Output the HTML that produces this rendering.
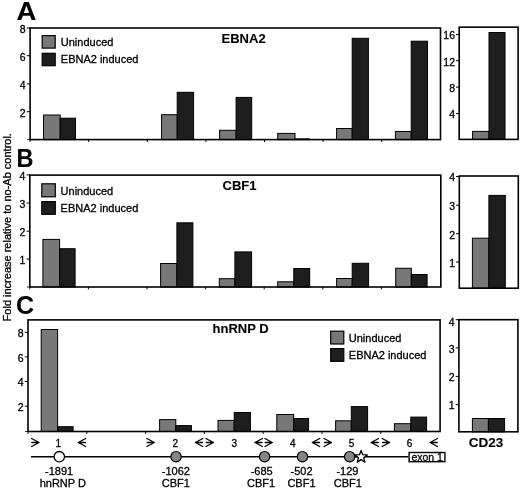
<!DOCTYPE html>
<html><head><meta charset="utf-8"><style>
html,body{margin:0;padding:0;background:#fff;}
body{width:520px;height:490px;overflow:hidden;}
svg{display:block;filter:grayscale(1);}
text{font-family:"Liberation Sans", sans-serif;fill:#000;stroke:#000;stroke-width:0.3px;}
text[font-weight=bold]{stroke-width:0.1px;}
</style></head><body>
<svg width="520" height="490" viewBox="0 0 520 490">
<rect x="0" y="0" width="520" height="490" fill="#fff"/>
<rect x="43.50" y="115.00" width="16.70" height="24.60" fill="#787878" stroke="#000" stroke-width="1.0"/>
<rect x="60.20" y="118.20" width="15.30" height="21.40" fill="#1e1e1e" stroke="#000" stroke-width="1.0"/>
<rect x="161.60" y="114.70" width="15.60" height="24.90" fill="#787878" stroke="#000" stroke-width="1.0"/>
<rect x="177.20" y="92.30" width="16.40" height="47.30" fill="#1e1e1e" stroke="#000" stroke-width="1.0"/>
<rect x="219.60" y="130.30" width="16.50" height="9.30" fill="#787878" stroke="#000" stroke-width="1.0"/>
<rect x="236.10" y="97.40" width="15.60" height="42.20" fill="#1e1e1e" stroke="#000" stroke-width="1.0"/>
<rect x="277.70" y="133.40" width="17.30" height="6.20" fill="#787878" stroke="#000" stroke-width="1.0"/>
<rect x="295.00" y="138.90" width="14.50" height="0.70" fill="#1e1e1e" stroke="#000" stroke-width="1.0"/>
<rect x="336.60" y="128.50" width="15.60" height="11.10" fill="#787878" stroke="#000" stroke-width="1.0"/>
<rect x="352.20" y="38.30" width="16.20" height="101.30" fill="#1e1e1e" stroke="#000" stroke-width="1.0"/>
<rect x="395.40" y="131.50" width="15.80" height="8.10" fill="#787878" stroke="#000" stroke-width="1.0"/>
<rect x="411.20" y="41.20" width="16.30" height="98.40" fill="#1e1e1e" stroke="#000" stroke-width="1.0"/>
<rect x="30.10" y="28.00" width="410.40" height="111.60" fill="none" stroke="#000" stroke-width="1.6"/>
<line x1="26.90" y1="28.00" x2="30.10" y2="28.00" stroke="#000" stroke-width="1.0"/>
<text x="25.70" y="32.80" font-size="10.5" text-anchor="end" font-weight="normal" >8</text>
<line x1="26.90" y1="55.70" x2="30.10" y2="55.70" stroke="#000" stroke-width="1.0"/>
<text x="25.70" y="60.50" font-size="10.5" text-anchor="end" font-weight="normal" >6</text>
<line x1="26.90" y1="83.90" x2="30.10" y2="83.90" stroke="#000" stroke-width="1.0"/>
<text x="25.70" y="88.70" font-size="10.5" text-anchor="end" font-weight="normal" >4</text>
<line x1="26.90" y1="111.70" x2="30.10" y2="111.70" stroke="#000" stroke-width="1.0"/>
<text x="25.70" y="116.50" font-size="10.5" text-anchor="end" font-weight="normal" >2</text>
<line x1="27.10" y1="139.60" x2="30.10" y2="139.60" stroke="#000" stroke-width="0.8"/>
<line x1="30.10" y1="139.60" x2="30.10" y2="142.00" stroke="#000" stroke-width="0.9"/>
<line x1="88.70" y1="139.60" x2="88.70" y2="142.00" stroke="#000" stroke-width="1.0"/>
<line x1="147.30" y1="139.60" x2="147.30" y2="142.00" stroke="#000" stroke-width="1.0"/>
<line x1="205.90" y1="139.60" x2="205.90" y2="142.00" stroke="#000" stroke-width="1.0"/>
<line x1="264.50" y1="139.60" x2="264.50" y2="142.00" stroke="#000" stroke-width="1.0"/>
<line x1="323.10" y1="139.60" x2="323.10" y2="142.00" stroke="#000" stroke-width="1.0"/>
<line x1="381.70" y1="139.60" x2="381.70" y2="142.00" stroke="#000" stroke-width="1.0"/>
<rect x="42.20" y="35.60" width="13.00" height="12.50" fill="#787878" stroke="#000" stroke-width="1.2"/>
<rect x="42.20" y="53.30" width="13.00" height="12.40" fill="#1e1e1e" stroke="#000" stroke-width="1.2"/>
<text x="60.80" y="45.80" font-size="11" text-anchor="start" font-weight="normal" >Uninduced</text>
<text x="60.80" y="63.20" font-size="11" text-anchor="start" font-weight="normal" >EBNA2 induced</text>
<text x="243.60" y="42.80" font-size="13" text-anchor="middle" font-weight="bold" >EBNA2</text>
<rect x="472.60" y="131.40" width="16.40" height="8.00" fill="#787878" stroke="#000" stroke-width="1.0"/>
<rect x="489.00" y="32.50" width="16.00" height="106.90" fill="#1e1e1e" stroke="#000" stroke-width="1.0"/>
<rect x="459.20" y="27.15" width="58.90" height="112.25" fill="none" stroke="#000" stroke-width="1.6"/>
<line x1="456.00" y1="34.60" x2="459.20" y2="34.60" stroke="#000" stroke-width="1.0"/>
<text x="455.00" y="39.40" font-size="10.5" text-anchor="end" font-weight="normal" >16</text>
<line x1="456.00" y1="60.70" x2="459.20" y2="60.70" stroke="#000" stroke-width="1.0"/>
<text x="455.00" y="65.50" font-size="10.5" text-anchor="end" font-weight="normal" >12</text>
<line x1="456.00" y1="87.10" x2="459.20" y2="87.10" stroke="#000" stroke-width="1.0"/>
<text x="455.00" y="91.90" font-size="10.5" text-anchor="end" font-weight="normal" >8</text>
<line x1="456.00" y1="113.60" x2="459.20" y2="113.60" stroke="#000" stroke-width="1.0"/>
<text x="455.00" y="118.40" font-size="10.5" text-anchor="end" font-weight="normal" >4</text>
<rect x="42.90" y="239.40" width="16.70" height="47.60" fill="#787878" stroke="#000" stroke-width="1.0"/>
<rect x="59.60" y="248.70" width="15.50" height="38.30" fill="#1e1e1e" stroke="#000" stroke-width="1.0"/>
<rect x="160.60" y="263.50" width="16.30" height="23.50" fill="#787878" stroke="#000" stroke-width="1.0"/>
<rect x="176.90" y="222.80" width="16.00" height="64.20" fill="#1e1e1e" stroke="#000" stroke-width="1.0"/>
<rect x="219.30" y="278.70" width="15.60" height="8.30" fill="#787878" stroke="#000" stroke-width="1.0"/>
<rect x="234.90" y="251.90" width="16.70" height="35.10" fill="#1e1e1e" stroke="#000" stroke-width="1.0"/>
<rect x="277.70" y="281.80" width="16.10" height="5.20" fill="#787878" stroke="#000" stroke-width="1.0"/>
<rect x="293.80" y="268.50" width="15.90" height="18.50" fill="#1e1e1e" stroke="#000" stroke-width="1.0"/>
<rect x="336.60" y="278.50" width="15.60" height="8.50" fill="#787878" stroke="#000" stroke-width="1.0"/>
<rect x="352.20" y="263.30" width="16.40" height="23.70" fill="#1e1e1e" stroke="#000" stroke-width="1.0"/>
<rect x="395.70" y="268.30" width="15.60" height="18.70" fill="#787878" stroke="#000" stroke-width="1.0"/>
<rect x="411.30" y="274.50" width="15.80" height="12.50" fill="#1e1e1e" stroke="#000" stroke-width="1.0"/>
<rect x="29.80" y="175.10" width="411.00" height="111.90" fill="none" stroke="#000" stroke-width="1.6"/>
<line x1="26.60" y1="174.90" x2="29.80" y2="174.90" stroke="#000" stroke-width="1.0"/>
<text x="25.40" y="179.70" font-size="10.5" text-anchor="end" font-weight="normal" >4</text>
<line x1="26.60" y1="203.00" x2="29.80" y2="203.00" stroke="#000" stroke-width="1.0"/>
<text x="25.40" y="207.80" font-size="10.5" text-anchor="end" font-weight="normal" >3</text>
<line x1="26.60" y1="231.20" x2="29.80" y2="231.20" stroke="#000" stroke-width="1.0"/>
<text x="25.40" y="236.00" font-size="10.5" text-anchor="end" font-weight="normal" >2</text>
<line x1="26.60" y1="259.10" x2="29.80" y2="259.10" stroke="#000" stroke-width="1.0"/>
<text x="25.40" y="263.90" font-size="10.5" text-anchor="end" font-weight="normal" >1</text>
<line x1="26.80" y1="287.00" x2="29.80" y2="287.00" stroke="#000" stroke-width="0.8"/>
<line x1="29.80" y1="287.00" x2="29.80" y2="289.40" stroke="#000" stroke-width="0.9"/>
<line x1="88.40" y1="287.00" x2="88.40" y2="289.40" stroke="#000" stroke-width="1.0"/>
<line x1="147.00" y1="287.00" x2="147.00" y2="289.40" stroke="#000" stroke-width="1.0"/>
<line x1="205.60" y1="287.00" x2="205.60" y2="289.40" stroke="#000" stroke-width="1.0"/>
<line x1="264.20" y1="287.00" x2="264.20" y2="289.40" stroke="#000" stroke-width="1.0"/>
<line x1="322.80" y1="287.00" x2="322.80" y2="289.40" stroke="#000" stroke-width="1.0"/>
<line x1="381.40" y1="287.00" x2="381.40" y2="289.40" stroke="#000" stroke-width="1.0"/>
<rect x="41.80" y="183.80" width="13.50" height="13.00" fill="#787878" stroke="#000" stroke-width="1.2"/>
<rect x="41.80" y="201.60" width="13.50" height="12.70" fill="#1e1e1e" stroke="#000" stroke-width="1.2"/>
<text x="60.60" y="194.70" font-size="11" text-anchor="start" font-weight="normal" >Uninduced</text>
<text x="60.60" y="212.10" font-size="11" text-anchor="start" font-weight="normal" >EBNA2 induced</text>
<text x="239.50" y="190.30" font-size="13" text-anchor="middle" font-weight="bold" >CBF1</text>
<rect x="472.40" y="238.20" width="16.50" height="50.00" fill="#787878" stroke="#000" stroke-width="1.0"/>
<rect x="488.90" y="195.40" width="16.40" height="92.80" fill="#1e1e1e" stroke="#000" stroke-width="1.0"/>
<rect x="459.30" y="176.00" width="59.00" height="112.20" fill="none" stroke="#000" stroke-width="1.6"/>
<line x1="456.10" y1="176.50" x2="459.30" y2="176.50" stroke="#000" stroke-width="1.0"/>
<text x="455.10" y="181.30" font-size="10.5" text-anchor="end" font-weight="normal" >4</text>
<line x1="456.10" y1="205.20" x2="459.30" y2="205.20" stroke="#000" stroke-width="1.0"/>
<text x="455.10" y="210.00" font-size="10.5" text-anchor="end" font-weight="normal" >3</text>
<line x1="456.10" y1="233.70" x2="459.30" y2="233.70" stroke="#000" stroke-width="1.0"/>
<text x="455.10" y="238.50" font-size="10.5" text-anchor="end" font-weight="normal" >2</text>
<line x1="456.10" y1="262.00" x2="459.30" y2="262.00" stroke="#000" stroke-width="1.0"/>
<text x="455.10" y="266.80" font-size="10.5" text-anchor="end" font-weight="normal" >1</text>
<rect x="41.20" y="329.50" width="16.40" height="102.00" fill="#787878" stroke="#000" stroke-width="1.0"/>
<rect x="57.60" y="426.70" width="15.50" height="4.80" fill="#1e1e1e" stroke="#000" stroke-width="1.0"/>
<rect x="159.60" y="419.60" width="16.20" height="11.90" fill="#787878" stroke="#000" stroke-width="1.0"/>
<rect x="175.80" y="425.60" width="15.60" height="5.90" fill="#1e1e1e" stroke="#000" stroke-width="1.0"/>
<rect x="218.00" y="420.40" width="16.20" height="11.10" fill="#787878" stroke="#000" stroke-width="1.0"/>
<rect x="234.20" y="412.50" width="16.20" height="19.00" fill="#1e1e1e" stroke="#000" stroke-width="1.0"/>
<rect x="276.80" y="414.50" width="16.90" height="17.00" fill="#787878" stroke="#000" stroke-width="1.0"/>
<rect x="293.70" y="418.50" width="14.90" height="13.00" fill="#1e1e1e" stroke="#000" stroke-width="1.0"/>
<rect x="335.60" y="420.80" width="15.70" height="10.70" fill="#787878" stroke="#000" stroke-width="1.0"/>
<rect x="351.30" y="406.60" width="16.30" height="24.90" fill="#1e1e1e" stroke="#000" stroke-width="1.0"/>
<rect x="394.40" y="423.70" width="16.40" height="7.80" fill="#787878" stroke="#000" stroke-width="1.0"/>
<rect x="410.80" y="417.10" width="15.80" height="14.40" fill="#1e1e1e" stroke="#000" stroke-width="1.0"/>
<rect x="28.00" y="319.90" width="412.10" height="111.60" fill="none" stroke="#000" stroke-width="1.6"/>
<line x1="24.80" y1="332.40" x2="28.00" y2="332.40" stroke="#000" stroke-width="1.0"/>
<text x="23.60" y="337.20" font-size="10.5" text-anchor="end" font-weight="normal" >8</text>
<line x1="24.80" y1="356.90" x2="28.00" y2="356.90" stroke="#000" stroke-width="1.0"/>
<text x="23.60" y="361.70" font-size="10.5" text-anchor="end" font-weight="normal" >6</text>
<line x1="24.80" y1="381.50" x2="28.00" y2="381.50" stroke="#000" stroke-width="1.0"/>
<text x="23.60" y="386.30" font-size="10.5" text-anchor="end" font-weight="normal" >4</text>
<line x1="24.80" y1="406.20" x2="28.00" y2="406.20" stroke="#000" stroke-width="1.0"/>
<text x="23.60" y="411.00" font-size="10.5" text-anchor="end" font-weight="normal" >2</text>
<line x1="25.00" y1="431.50" x2="28.00" y2="431.50" stroke="#000" stroke-width="0.8"/>
<line x1="28.00" y1="431.50" x2="28.00" y2="433.90" stroke="#000" stroke-width="0.9"/>
<line x1="86.80" y1="431.50" x2="86.80" y2="433.90" stroke="#000" stroke-width="1.0"/>
<line x1="145.60" y1="431.50" x2="145.60" y2="433.90" stroke="#000" stroke-width="1.0"/>
<line x1="204.40" y1="431.50" x2="204.40" y2="433.90" stroke="#000" stroke-width="1.0"/>
<line x1="263.20" y1="431.50" x2="263.20" y2="433.90" stroke="#000" stroke-width="1.0"/>
<line x1="322.00" y1="431.50" x2="322.00" y2="433.90" stroke="#000" stroke-width="1.0"/>
<line x1="380.80" y1="431.50" x2="380.80" y2="433.90" stroke="#000" stroke-width="1.0"/>
<rect x="330.70" y="331.20" width="13.10" height="12.80" fill="#787878" stroke="#000" stroke-width="1.2"/>
<rect x="330.70" y="348.60" width="13.10" height="12.70" fill="#1e1e1e" stroke="#000" stroke-width="1.2"/>
<text x="348.80" y="341.70" font-size="11" text-anchor="start" font-weight="normal" >Uninduced</text>
<text x="348.80" y="359.10" font-size="11" text-anchor="start" font-weight="normal" >EBNA2 induced</text>
<text x="240.60" y="333.20" font-size="13" text-anchor="middle" font-weight="bold" >hnRNP D</text>
<rect x="472.40" y="418.50" width="16.00" height="13.30" fill="#787878" stroke="#000" stroke-width="1.0"/>
<rect x="488.40" y="418.50" width="16.20" height="13.30" fill="#1e1e1e" stroke="#000" stroke-width="1.0"/>
<rect x="458.90" y="319.70" width="59.00" height="112.10" fill="none" stroke="#000" stroke-width="1.6"/>
<line x1="455.70" y1="319.70" x2="458.90" y2="319.70" stroke="#000" stroke-width="1.0"/>
<text x="454.70" y="326.30" font-size="10.5" text-anchor="end" font-weight="normal" >4</text>
<line x1="455.70" y1="347.90" x2="458.90" y2="347.90" stroke="#000" stroke-width="1.0"/>
<text x="454.70" y="352.70" font-size="10.5" text-anchor="end" font-weight="normal" >3</text>
<line x1="455.70" y1="376.40" x2="458.90" y2="376.40" stroke="#000" stroke-width="1.0"/>
<text x="454.70" y="381.20" font-size="10.5" text-anchor="end" font-weight="normal" >2</text>
<line x1="455.70" y1="404.60" x2="458.90" y2="404.60" stroke="#000" stroke-width="1.0"/>
<text x="454.70" y="409.40" font-size="10.5" text-anchor="end" font-weight="normal" >1</text>
<text transform="translate(16.6,19.6) scale(1.1,1)" x="0" y="0" font-size="25" font-weight="bold">A</text>
<text transform="translate(16.6,166.9) scale(0.94,1)" x="0" y="0" font-size="25" font-weight="bold">B</text>
<text x="16.00" y="313.50" font-size="25" text-anchor="start" font-weight="bold" >C</text>
<text transform="translate(10.6,321.4) rotate(-90)" font-size="11">Fold increase relative to no-Ab control.</text>
<path d="M31.60,438.50 L39.00,442.50 L31.60,446.50 M31.90,442.50 L39.00,442.50" fill="none" stroke="#000" stroke-width="1.3" stroke-linejoin="round" stroke-linecap="round"/>
<path d="M146.90,438.50 L154.30,442.50 L146.90,446.50 M147.20,442.50 L154.30,442.50" fill="none" stroke="#000" stroke-width="1.3" stroke-linejoin="round" stroke-linecap="round"/>
<path d="M206.00,438.50 L213.40,442.50 L206.00,446.50 M206.30,442.50 L213.40,442.50" fill="none" stroke="#000" stroke-width="1.3" stroke-linejoin="round" stroke-linecap="round"/>
<path d="M264.90,438.50 L272.30,442.50 L264.90,446.50 M265.20,442.50 L272.30,442.50" fill="none" stroke="#000" stroke-width="1.3" stroke-linejoin="round" stroke-linecap="round"/>
<path d="M324.10,438.50 L331.50,442.50 L324.10,446.50 M324.40,442.50 L331.50,442.50" fill="none" stroke="#000" stroke-width="1.3" stroke-linejoin="round" stroke-linecap="round"/>
<path d="M382.20,438.50 L389.60,442.50 L382.20,446.50 M382.50,442.50 L389.60,442.50" fill="none" stroke="#000" stroke-width="1.3" stroke-linejoin="round" stroke-linecap="round"/>
<path d="M85.70,438.50 L78.30,442.50 L85.70,446.50 M85.40,442.50 L78.30,442.50" fill="none" stroke="#000" stroke-width="1.3" stroke-linejoin="round" stroke-linecap="round"/>
<path d="M202.80,438.50 L195.40,442.50 L202.80,446.50 M202.50,442.50 L195.40,442.50" fill="none" stroke="#000" stroke-width="1.3" stroke-linejoin="round" stroke-linecap="round"/>
<path d="M262.40,438.50 L255.00,442.50 L262.40,446.50 M262.10,442.50 L255.00,442.50" fill="none" stroke="#000" stroke-width="1.3" stroke-linejoin="round" stroke-linecap="round"/>
<path d="M319.70,438.50 L312.30,442.50 L319.70,446.50 M319.40,442.50 L312.30,442.50" fill="none" stroke="#000" stroke-width="1.3" stroke-linejoin="round" stroke-linecap="round"/>
<path d="M378.60,438.50 L371.20,442.50 L378.60,446.50 M378.30,442.50 L371.20,442.50" fill="none" stroke="#000" stroke-width="1.3" stroke-linejoin="round" stroke-linecap="round"/>
<path d="M437.50,438.50 L430.10,442.50 L437.50,446.50 M437.20,442.50 L430.10,442.50" fill="none" stroke="#000" stroke-width="1.3" stroke-linejoin="round" stroke-linecap="round"/>
<text x="58.30" y="446.80" font-size="10" text-anchor="middle" font-weight="normal" >1</text>
<text x="175.40" y="446.70" font-size="10" text-anchor="middle" font-weight="normal" >2</text>
<text x="234.20" y="447.20" font-size="10" text-anchor="middle" font-weight="normal" >3</text>
<text x="292.85" y="446.90" font-size="10" text-anchor="middle" font-weight="normal" >4</text>
<text x="351.50" y="446.70" font-size="10" text-anchor="middle" font-weight="normal" >5</text>
<text x="409.45" y="447.20" font-size="10" text-anchor="middle" font-weight="normal" >6</text>
<text x="486.10" y="447.00" font-size="13.5" text-anchor="middle" font-weight="bold" >CD23</text>
<line x1="31.00" y1="456.70" x2="408.30" y2="456.70" stroke="#000" stroke-width="1.6"/>
<circle cx="59.3" cy="456.7" r="5.2" fill="#fff" stroke="#000" stroke-width="1.3"/>
<circle cx="176.05" cy="456.7" r="5.2" fill="#858585" stroke="#000" stroke-width="1.2"/>
<circle cx="264.6" cy="456.7" r="5.2" fill="#858585" stroke="#000" stroke-width="1.2"/>
<circle cx="302.45" cy="456.7" r="5.2" fill="#858585" stroke="#000" stroke-width="1.2"/>
<circle cx="349.65" cy="456.7" r="5.2" fill="#858585" stroke="#000" stroke-width="1.2"/>
<polygon points="361.10,450.40 362.72,454.68 367.28,454.89 363.72,457.75 364.92,462.16 361.10,459.65 357.28,462.16 358.48,457.75 354.92,454.89 359.48,454.68" fill="#fff" stroke="#000" stroke-width="1.3" stroke-linejoin="round"/>
<rect x="409.1" y="452.5" width="35.8" height="9.2" fill="#fff" stroke="#000" stroke-width="1.4"/>
<text x="427.20" y="460.60" font-size="10.5" text-anchor="middle" font-weight="normal" >exon 1</text>
<text x="59.10" y="474.70" font-size="11" text-anchor="middle" font-weight="normal" >-1891</text>
<text x="62.80" y="487.00" font-size="11" text-anchor="middle" font-weight="normal" >hnRNP D</text>
<text x="175.90" y="474.70" font-size="11" text-anchor="middle" font-weight="normal" >-1062</text>
<text x="175.90" y="487.00" font-size="11" text-anchor="middle" font-weight="normal" >CBF1</text>
<text x="261.70" y="474.70" font-size="11" text-anchor="middle" font-weight="normal" >-685</text>
<text x="261.15" y="487.00" font-size="11" text-anchor="middle" font-weight="normal" >CBF1</text>
<text x="301.60" y="474.70" font-size="11" text-anchor="middle" font-weight="normal" >-502</text>
<text x="301.45" y="487.00" font-size="11" text-anchor="middle" font-weight="normal" >CBF1</text>
<text x="347.40" y="474.70" font-size="11" text-anchor="middle" font-weight="normal" >-129</text>
<text x="347.80" y="487.00" font-size="11" text-anchor="middle" font-weight="normal" >CBF1</text>
</svg>
</body></html>
